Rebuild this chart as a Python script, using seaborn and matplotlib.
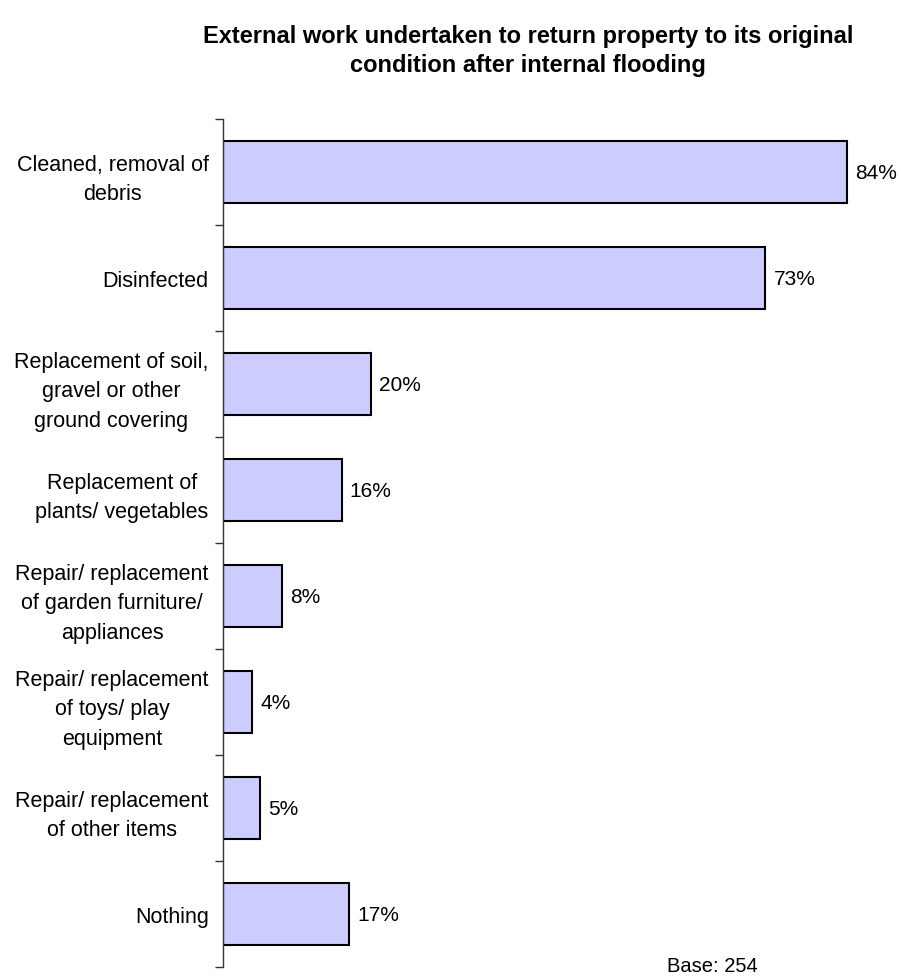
import matplotlib
matplotlib.use("Agg")
import matplotlib.pyplot as plt
import numpy as np
import pandas as pd
import seaborn as sns

TITLE = "External work undertaken to return property to its original\ncondition after internal flooding"
CATEGORIES = [
    "Cleaned, removal of\ndebris",
    "Disinfected",
    "Replacement of soil,\ngravel or other\nground covering",
    "Replacement of\nplants/ vegetables",
    "Repair/ replacement\nof garden furniture/\nappliances",
    "Repair/ replacement\nof toys/ play\nequipment",
    "Repair/ replacement\nof other items",
    "Nothing",
]
VALUES = [84, 73, 20, 16, 8, 4, 5, 17]
BASE_NOTE = "Base: 254"

BAR_COLOUR = "#CCCCFF"


def main() -> None:
    sns.set_style("white")
    plt.rcParams["font.family"] = ["Liberation Sans", "DejaVu Sans"]
    plt.rcParams["text.color"] = "black"
    plt.rcParams["ytick.color"] = "black"

    df = pd.DataFrame({"category": CATEGORIES, "pct": VALUES})

    fig = plt.figure(figsize=(9.01, 9.78), dpi=100)
    ax = fig.add_axes([0.247, 0.0102, 0.733, 0.8671])

    sns.barplot(data=df, x="pct", y="category", orient="h", color=BAR_COLOUR,
                saturation=1, edgecolor="black", linewidth=1.5, width=0.585, ax=ax)

    for bar, v in zip(ax.patches, VALUES):
        y = bar.get_y() + bar.get_height() / 2
        ax.text(bar.get_width() + 1.1, y, f"{v}%", va="center", ha="left", fontsize=15)

    ax.set_xlim(0, 88.8)
    ax.set_ylim(len(CATEGORIES) - 0.5, -0.5)
    ax.set_xlabel("")
    ax.set_ylabel("")
    ax.set_xticks([])

    for side in ["top", "right", "bottom"]:
        ax.spines[side].set_visible(False)
    ax.spines["left"].set_color("#333333")
    ax.spines["left"].set_linewidth(1)

    ax.tick_params(axis="y", which="major", left=False, length=0, pad=10, labelsize=15.5)
    ax.set_yticks(np.arange(-0.5, len(CATEGORIES)), minor=True)
    ax.tick_params(axis="y", which="minor", left=True, length=6, width=1,
                   color="#333333", direction="out")
    for lbl in ax.get_yticklabels():
        lbl.set_multialignment("center")
        lbl.set_linespacing(1.55)

    fig.text(0.586, 0.948, TITLE, ha="center", va="center", fontsize=17,
             fontweight="bold", linespacing=1.3)
    fig.text(0.74, 0.012, BASE_NOTE, ha="left", va="center", fontsize=14.5)

    fig.savefig("out.png", dpi=100)
    plt.close(fig)


if __name__ == "__main__":
    main()
